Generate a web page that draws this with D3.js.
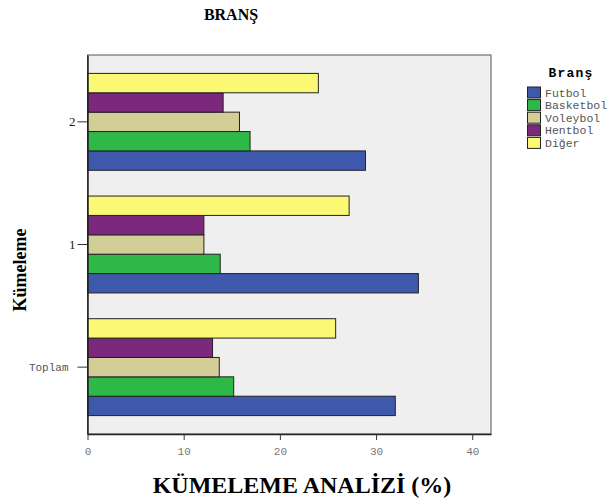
<!DOCTYPE html>
<html><head><meta charset="utf-8">
<script src="https://cdn.jsdelivr.net/npm/d3@7"></script>
<style>body{margin:0;background:#fff}</style>
</head><body>
<svg id="c" width="607" height="498"></svg>
<script>
const categories = ["2", "1", "Toplam"];
const series = ["Futbol", "Basketbol", "Voleybol", "Hentbol", "Diğer"];
const colors = ["#3E58AC", "#2EB848", "#D3CE97", "#7B287D", "#FBF873"];
const futbol = [28.9, 34.4, 32.0];
const basketbol = [16.9, 13.8, 15.2];
const voleybol = [15.8, 12.1, 13.7];
const hentbol = [14.1, 12.1, 13.0];
const diger = [24.0, 27.2, 25.8];
const xTicks = [0, 10, 20, 30, 40];
const values = [futbol, basketbol, voleybol, hentbol, diger];

const svg = d3.select("#c");
const L = 87.5, R = 491, T = 55, B = 434;
const x = d3.scaleLinear().domain([0, 41.95]).range([L, R]);
const y = d3.scaleBand().domain(categories).range([T, B]).paddingInner(0.21).paddingOuter(0.15);
const ys = d3.scaleBand().domain(series.slice().reverse()).range([0, y.bandwidth()]);

svg.append("rect").attr("x", L).attr("y", T).attr("width", R - L).attr("height", B - T)
  .attr("fill", "#EFEFEF").attr("stroke", "#555").attr("stroke-width", 1);

const g = svg.append("g");
categories.forEach((c, ci) => {
  series.forEach((s, si) => {
    g.append("rect")
      .attr("x", x(0)).attr("y", y(c) + ys(s))
      .attr("width", x(values[si][ci]) - x(0)).attr("height", ys.bandwidth())
      .attr("fill", colors[si]).attr("stroke", "#222").attr("stroke-width", 1);
  });
});

const mono = "'Liberation Mono', 'DejaVu Sans Mono', monospace";
const serif = "'Liberation Serif', serif";

// x axis
const xa = svg.append("g").attr("transform", `translate(0,${B})`)
  .call(d3.axisBottom(x).tickValues(xTicks).tickSize(6).tickSizeOuter(0).tickPadding(7));
xa.select(".domain").attr("stroke", "#222").attr("stroke-width", 1.5);
xa.selectAll(".tick line").attr("stroke", "#333");
xa.selectAll("text").attr("font-family", mono).attr("font-size", 11).attr("fill", "#777");

// y axis
const ya = svg.append("g").attr("transform", `translate(${L},0)`)
  .call(d3.axisLeft(y).tickSize(10).tickSizeOuter(0).tickPadding(2));
ya.select(".domain").attr("stroke", "#222").attr("stroke-width", 1.5);
ya.selectAll(".tick line").attr("stroke", "#333");
ya.selectAll("text").each(function(d) {
  const t = d3.select(this);
  if (d === "Toplam") {
    t.attr("font-family", mono).attr("font-size", 11).attr("fill", "#555").attr("dx", -7);
  } else {
    t.attr("font-family", serif).attr("font-size", 13).attr("fill", "#222");
  }
});

// titles
svg.append("text").attr("x", 231).attr("y", 20).attr("text-anchor", "middle")
  .attr("font-family", serif).attr("font-weight", "bold").attr("font-size", 16)
  .text("BRANŞ");
svg.append("text").attr("x", 302).attr("y", 493).attr("text-anchor", "middle")
  .attr("font-family", serif).attr("font-weight", "bold").attr("font-size", 24)
  .text("KÜMELEME ANALİZİ (%)");
svg.append("text").attr("transform", "translate(26,270) rotate(-90)").attr("text-anchor", "middle")
  .attr("font-family", serif).attr("font-weight", "bold").attr("font-size", 18)
  .text("Kümeleme");

// legend
const lg = svg.append("g");
lg.append("text").attr("x", 571).attr("y", 77).attr("text-anchor", "middle")
  .attr("font-family", mono).attr("font-weight", "bold").attr("font-size", 13)
  .attr("letter-spacing", 1.2).text("Branş");
series.forEach((s, i) => {
  const yy = 87 + i * 12.6;
  lg.append("rect").attr("x", 527.5).attr("y", yy).attr("width", 13).attr("height", 11)
    .attr("fill", colors[i]).attr("stroke", "#222").attr("stroke-width", 1);
  lg.append("text").attr("x", 545).attr("y", yy + 9.5)
    .attr("font-family", mono).attr("font-size", 11.5).attr("fill", "#555")
    .text(s);
});
</script>
</body></html>
